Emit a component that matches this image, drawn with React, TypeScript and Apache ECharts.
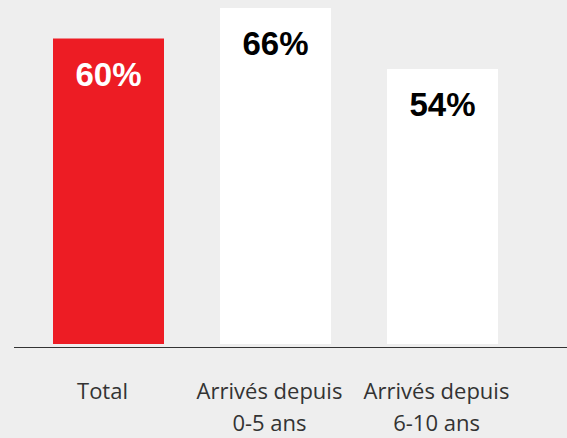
import React, { useEffect, useRef } from "react";
import * as echarts from "echarts";

const categories = ["Total", "Arrivés depuis\n0-5 ans", "Arrivés depuis\n6-10 ans"];
const values = [60, 66, 54];
const barColors = ["#ED1C24", "#FFFFFF", "#FFFFFF"];
const labelColors = ["#FFFFFF", "#000000", "#000000"];

export default function App() {
  const ref = useRef<HTMLDivElement>(null);
  useEffect(() => {
    if (!ref.current) return;
    const chart = echarts.init(ref.current, undefined, { renderer: "svg" });
    chart.setOption({
      animation: false,
      backgroundColor: "#EEEEEE",
      grid: { left: 25, right: 41, top: 8, bottom: 90.5, containLabel: false },
      xAxis: {
        type: "category",
        data: categories,
        axisLine: { show: false },
        axisTick: { show: false },
        axisLabel: {
          interval: 0,
          margin: 30,
          fontFamily: "Open Sans",
          fontSize: 22,
          lineHeight: 32,
          color: "#333333",
          padding: [0, 12, 0, 0],
        },
      },
      yAxis: { type: "value", min: 0, max: 66, show: false, splitLine: { show: false } },
      series: [
        {
          type: "bar",
          barWidth: 111,
          data: values.map((v, i) => ({
            value: v,
            itemStyle: { color: barColors[i] },
            label: { color: labelColors[i] },
          })),
          label: {
            show: true,
            position: "insideTop",
            distance: 19,
            formatter: "{c}%",
            fontFamily: "Liberation Sans, Arial, sans-serif",
            fontWeight: "bold",
            fontSize: 33,
          },
        },
      ],
      graphic: [
        {
          type: "line",
          shape: { x1: 14, y1: 347.5, x2: 567, y2: 347.5 },
          style: { stroke: "#333333", lineWidth: 1 },
          z: 10,
        },
      ],
    });
    return () => chart.dispose();
  }, []);
  return (
    <div
      ref={ref}
      style={{ position: "fixed", left: 0, top: 0, width: 567, height: 438 }}
    />
  );
}
